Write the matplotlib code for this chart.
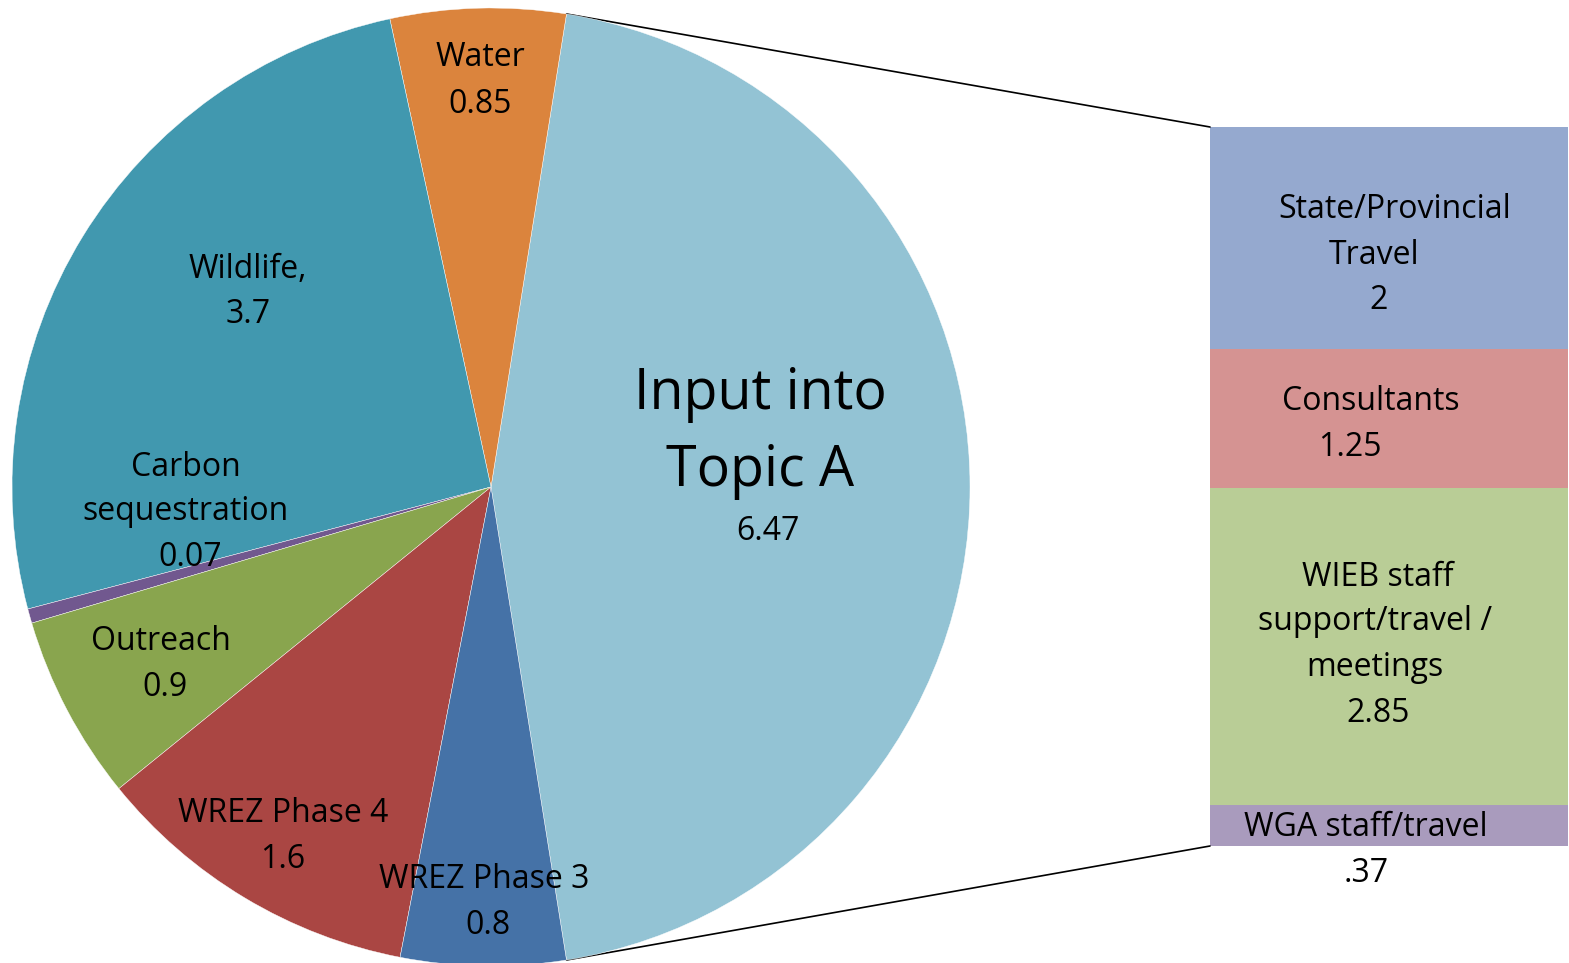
import matplotlib
matplotlib.use("Agg")
import matplotlib.pyplot as plt
from matplotlib.patches import ConnectionPatch
import numpy as np

plt.rcParams['font.family'] = ['Open Sans', 'DejaVu Sans']

# ---- data ----
pie_labels = ["Input into Topic A", "Water", "Wildlife", "Carbon sequestration",
              "Outreach", "WREZ Phase 4", "WREZ Phase 3"]
pie_values = [6.47, 0.85, 3.7, 0.07, 0.9, 1.6, 0.8]
pie_colors = ["#93C3D4", "#DB843D", "#4198AF", "#71588F", "#89A54E", "#AA4643", "#4572A7"]

bar_labels = ["State/Provincial Travel", "Consultants",
              "WIEB staff support/travel / meetings", "WGA staff/travel"]
bar_values = [2, 1.25, 2.85, 0.37]
bar_colors = ["#95A9CF", "#D59392", "#B9CD96", "#A99BBD"]

W, H = 1569, 963
fig = plt.figure(figsize=(W / 100, H / 100), dpi=100)

# ---- bar of pie (drawn underneath the overlay axes) ----
bx0, bx1, by0, by1 = 1210, 1568, 127, 846
bax = fig.add_axes([bx0 / W, (H - by1) / H, (bx1 - bx0) / W, (by1 - by0) / H])
bottoms = np.concatenate([[0], np.cumsum(bar_values)[:-1]])
bax.bar([0] * len(bar_values), bar_values, bottom=bottoms, width=1,
        color=bar_colors, edgecolor='none')
bax.set_xlim(-0.5, 0.5)
bax.set_ylim(sum(bar_values), 0)
bax.axis('off')
bax.set_zorder(0)

ax = fig.add_axes([0, 0, 1, 1])
ax.set_zorder(1)
ax.patch.set_alpha(0)

cx, cy, r = 491, H - 487, 479
total = sum(pie_values)
theta = pie_values[0] / total * 360
start = -theta / 2
ax.pie(pie_values, colors=pie_colors, startangle=start, counterclock=True,
       center=(cx, cy), radius=r, frame=True,
       wedgeprops=dict(edgecolor='white', linewidth=0.3))
ax.set_xlim(0, W)
ax.set_ylim(0, H)
ax.set_aspect('equal')
ax.axis('off')

fs = 23
dy = 4
def put(x, y, s, size=fs):
    ax.text(x, H - y - dy, s, ha='center', va='center', fontsize=size, color='black')

# pie labels (line by line)
put(480, 53, "Water"); put(480, 100, f"{pie_values[1]:.2f}")
put(248, 265, "Wildlife,"); put(248, 310, f"{pie_values[2]:g}")
put(186, 463, "Carbon"); put(186, 508, "sequestration"); put(190, 553, f"{pie_values[3]:.2f}")
put(161, 638, "Outreach"); put(165, 684, f"{pie_values[4]:g}")
put(283, 810, "WREZ Phase 4"); put(283, 856, f"{pie_values[5]:g}")
put(484, 876, "WREZ Phase 3"); put(488, 921, f"{pie_values[6]:g}")
put(760, 390, "Input into", 40); put(760, 467, "Topic A", 40)
put(768, 528, f"{pie_values[0]:.2f}")

# bar labels
put(1395, 205, "State/Provincial"); put(1374, 251, "Travel"); put(1379, 296, f"{bar_values[0]:g}")
put(1371, 397, "Consultants"); put(1350, 443, f"{bar_values[1]:.2f}")
put(1378, 573, "WIEB staff"); put(1375, 618, "support/travel /"); put(1375, 664, "meetings")
put(1378, 709, f"{bar_values[2]:.2f}")
put(1366, 824, "WGA staff/travel"); put(1366, 869, ".37")

# connector lines
a1 = np.deg2rad(start + theta)
a2 = np.deg2rad(start)
p_top = (cx + r * np.cos(a1), cy + r * np.sin(a1))
p_bot = (cx + r * np.cos(a2), cy + r * np.sin(a2))
for p, yb in [(p_top, 0), (p_bot, sum(bar_values))]:
    con = ConnectionPatch(xyA=p, coordsA=ax.transData, xyB=(-0.5, yb), coordsB=bax.transData,
                          color='black', linewidth=1.2)
    fig.add_artist(con)

fig.savefig("out.png", dpi=100)
